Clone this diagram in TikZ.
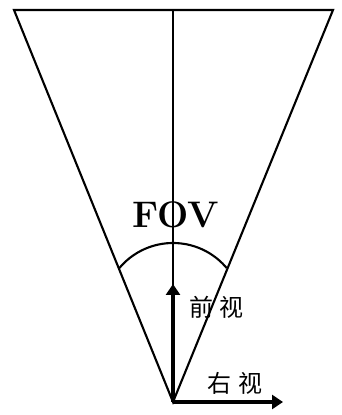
\documentclass[tikz,border=0pt]{standalone}
\usepackage{fontspec}
\usepackage{tikz}
\usetikzlibrary{arrows.meta, positioning, calc}
\newfontfamily\cjk{Noto Sans CJK SC}
\tikzset{
  fovline/.style={line width=2.1pt, color=black},
  viewarrow/.style={-{Triangle[length=11pt,width=14pt]}, line width=4.5pt,
                    color=black},
  fovlabel/.style={font=\bfseries\fontsize{37}{37}\selectfont, inner sep=0pt},
  viewlabel/.style={font=\cjk\fontsize{24}{24}\selectfont, inner sep=0pt}
}
\begin{document}
\begin{tikzpicture}[x=1pt, y=1pt]
  \useasboundingbox (0,0) rectangle (341,415);
  \coordinate (apex)  at (173,13);
  \coordinate (tl)    at (14,405);
  \coordinate (tr)    at (333,405);
  \coordinate (tc)    at (173,405);
  \coordinate (front) at (173,131);
  \coordinate (right) at (283,13);

  \draw[fovline, line join=miter] (tl) -- (tr) -- (apex) -- cycle;
  \draw[fovline] (tc) -- (apex);
  \draw[fovline] (119.4,147) arc[start angle=140, end angle=40, radius=70];

  \node[fovlabel] (fov) at (176,200) {FOV};
  \node[viewlabel, anchor=west] (qian) at (189,108) {前\hspace{6pt}视};
  \node[viewlabel, anchor=west] (you) at (207,32) {右\hspace{7pt}视};

  \draw[viewarrow] (apex) -- (front);
  \draw[viewarrow] (apex) -- (right);
\end{tikzpicture}
\end{document}
